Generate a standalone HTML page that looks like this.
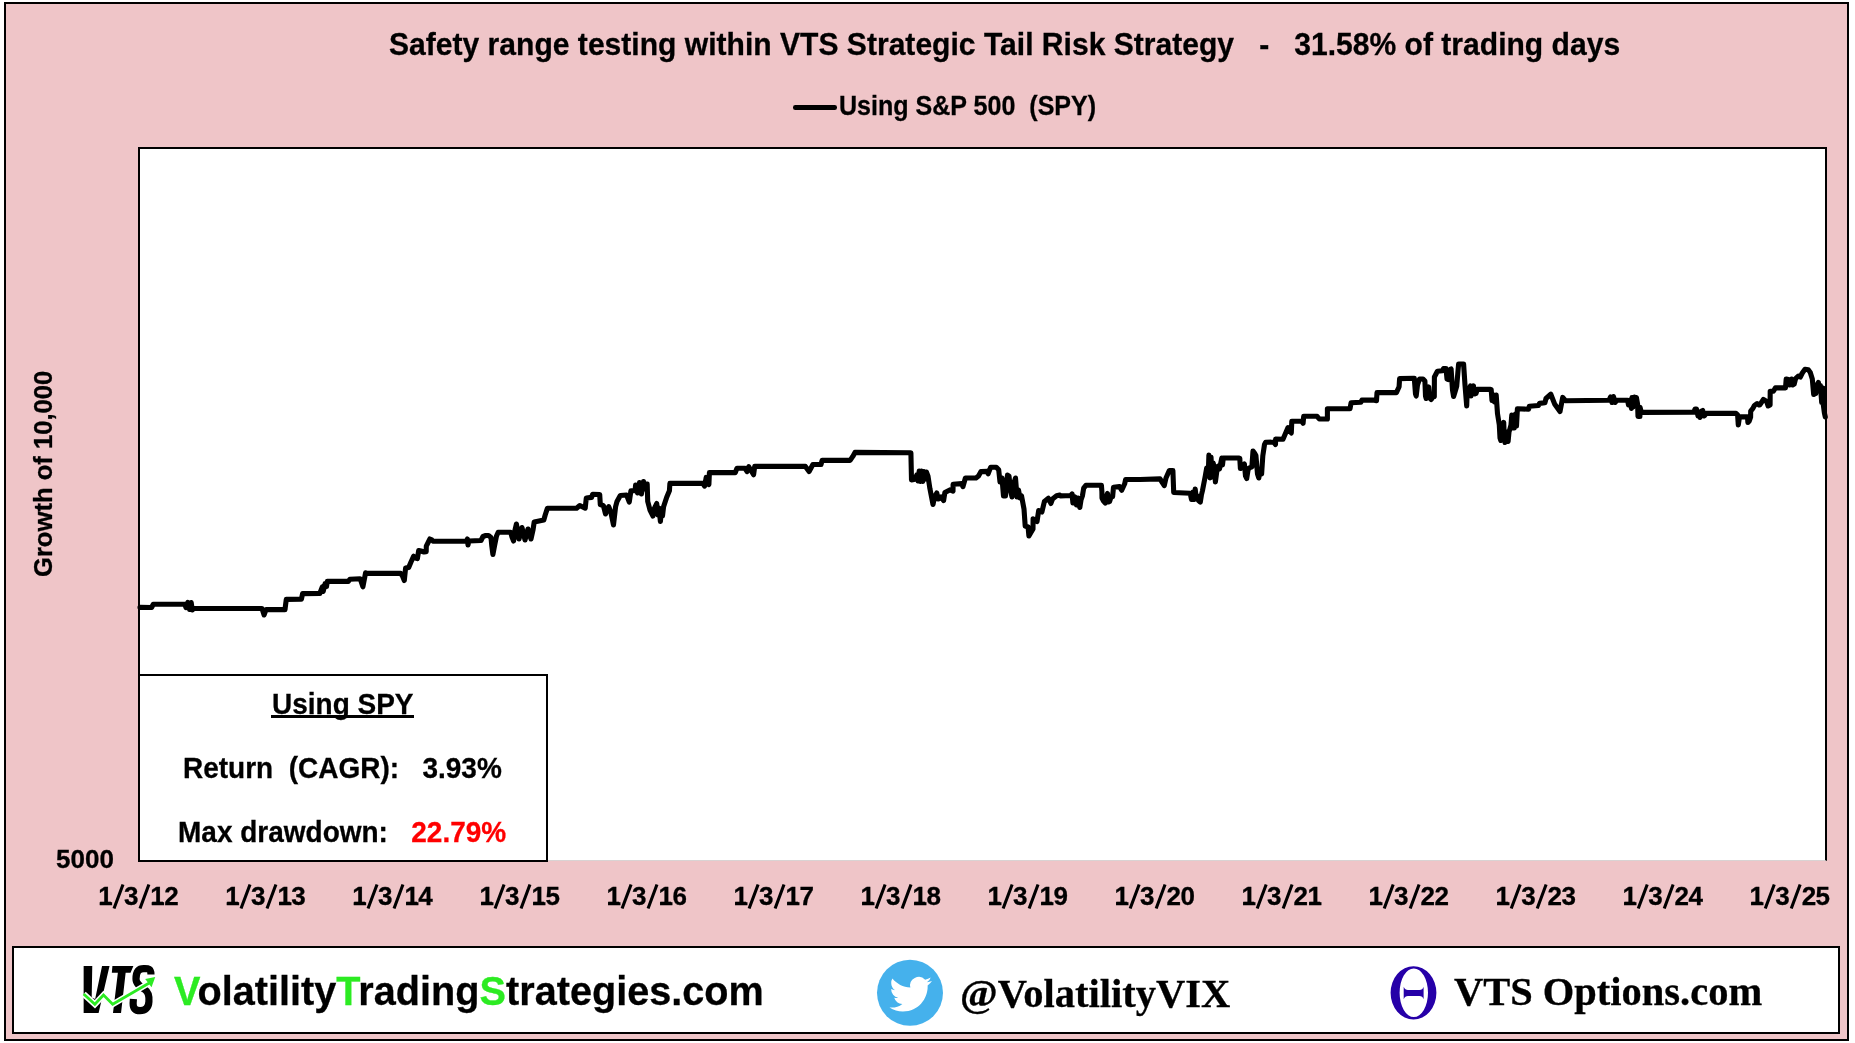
<!DOCTYPE html>
<html><head><meta charset="utf-8">
<style>
html,body{margin:0;padding:0;}
body{width:1855px;height:1043px;position:relative;background:#fff;overflow:hidden;-webkit-font-smoothing:antialiased;-webkit-text-stroke-width:0.3px;font-family:"Liberation Sans",sans-serif;color:#000;}
.abs{position:absolute;}
#outer{left:4px;top:2px;width:1841px;height:1035px;border:2px solid #000;background:#efc5c8;}
#title{left:389px;top:28.1px;font-weight:bold;font-size:31.2px;white-space:pre;line-height:34px;transform-origin:0 0;transform:scaleX(0.9643);}
#legend{left:838.5px;top:89.8px;font-weight:bold;font-size:27.5px;white-space:pre;line-height:32px;transform-origin:0 0;transform:scaleX(0.911);}
#legline{left:793.3px;top:105.1px;width:43.6px;height:4.6px;border-radius:2.3px;background:#000;}
#plot{left:138px;top:147px;width:1685px;height:711px;border:2px solid #000;border-bottom:1px solid #d9d3d3;background:#fff;}
#stats{left:138px;top:674px;width:406px;height:184px;border:2px solid #000;background:#fff;}
.st{position:absolute;font-weight:bold;font-size:30px;white-space:pre;line-height:32px;transform-origin:0 0;transform:scaleX(0.933);}
#ylab{left:31px;top:577px;transform-origin:0 0;transform:rotate(-90deg);font-weight:bold;font-size:25.6px;white-space:pre;line-height:24px;}
#footer{left:12px;top:946px;width:1824px;height:84px;border:2px solid #000;background:#fff;}
.ft{position:absolute;font-weight:bold;white-space:pre;}
</style></head><body>
<div id="root" style="position:absolute;left:0;top:0;width:1855px;height:1043px;overflow:hidden;will-change:transform;">
<div id="outer" class="abs"></div>
<div id="title" class="abs">Safety range testing within VTS Strategic Tail Risk Strategy   -   31.58% of trading days</div>
<div id="legline" class="abs"></div><div id="legend" class="abs">Using S&amp;P 500  (SPY)</div>
<div id="ylab" class="abs">Growth of 10,000</div>
<div id="plot" class="abs"></div>
<svg class="abs" style="left:0;top:0" width="1855" height="1043" viewBox="0 0 1855 1043">
<polyline points="140,607.4 151.6,607.5 153.3,604.3 184.8,604.3 186,607.5 187.8,602.3 189.5,609.5 191.2,602.5 192.3,610 193.8,608.5 262,608.5 264.1,615 266,609.6 285,609.6 285.6,604.6 286.3,599.4 301.4,599.3 302.6,593.6 319.8,593.5 322.3,587 323.2,591.5 325.1,583.5 326.5,586.5 327.3,581.4 348.3,581.4 349.9,579.3 360.2,578.8 362.9,586.8 365.6,572.8 367,573.4 400.6,573.3 402.5,576 404.3,580.5 405.6,568 408.7,567.4 411,562 413.7,556.2 415.5,558 417.4,558.6 418.7,550.5 421,551 424,552 426.2,551.8 426.3,546.2 429.9,539 431.8,539.8 433,541.2 466.5,541.2 467.4,539 468,545 468.9,541 481,540.5 483,536.5 485.8,535.5 488.5,535.5 491,537.5 491.8,546 492.9,554.5 494.5,546 496.5,536 498.2,532.3 510.7,532.3 512,537 513.6,541 515,530 516.4,524 519,539 522,527.5 525,540 528,529 531,539 533,530 534.2,522 543.8,520 545.2,515 547.4,508.2 576.6,508.2 579.8,505.5 585.2,508.2 586.3,498 591.6,497.4 592.7,494.2 599.7,494.5 600.3,504.5 603.4,505.6 605.5,514 608.7,506.6 610.8,511.9 613.5,525 615.6,506.6 617,501.5 620.3,495.5 626.6,495 629.3,502 630.9,490.8 635.1,490.8 635.6,485 637.5,493 639.5,482.5 641.4,494 643.5,481.5 645.5,489 647.2,484 647.7,501.4 650,510 653,516 654.5,508 656.7,503.5 658,515 659,508 660.4,521.5 661.5,510 662.5,516 663.6,506.6 666.7,497.2 669.4,490.8 669.9,483.4 671.4,483.4 702.9,483.4 704.6,486.1 706.2,477.4 708.9,484.5 709.4,472.6 735.3,472.6 736.9,468.3 745,468.3 747.1,471.5 748.8,466.7 753.6,474.7 754.7,466.4 805.4,466.4 809.1,471.5 812.9,464.5 821,464.5 822.1,460.4 850.1,460.4 852.8,456.4 855,452.4 910.9,452.8 911.5,479.9 915,479.3 916.8,474.9 918,481 919.2,471 920.4,481.5 921.6,471 922.8,481.5 924,471.5 925.2,479 926.4,472 928,476.2 929.9,488.6 933,504.5 934.5,497 936.8,493 938,499 939.3,498.5 941,497 943.6,500.5 944.9,492.4 949.8,489.9 953,491.1 953.1,484.3 961.7,483.6 962.9,486.7 965.4,478 976,478 978.5,476 981,471.6 987.3,471.4 988.1,473.8 990.6,467.3 996.3,467.3 998.7,469.8 1000,482 1002,478 1003.5,496 1005.5,496 1007.5,475 1009,476 1010.5,490 1012,497 1013.5,484 1015.5,478 1017,497 1018.5,490 1020,498 1021.5,495.8 1024,508.9 1025.2,526 1028.1,527 1028.9,536 1033,529 1033.1,518.7 1037,521.5 1038.7,510.5 1041.9,512 1044.4,501.5 1048.4,498.3 1050.9,503.5 1052.5,499.1 1056.6,495.8 1059.8,495 1060.5,495.9 1070.8,495.5 1072.1,494 1072.9,503 1074,496.5 1075.1,497 1076.5,505 1078,498 1079.8,507.5 1081,500 1082.4,496 1083.7,488.1 1085.9,485.3 1101.4,485.3 1101.9,491.6 1102,498 1103.5,501 1105.3,503 1106.5,496 1107.5,493.5 1108.5,502 1109.6,501.5 1111,497 1112.6,496.8 1113.5,487.3 1119.5,486.6 1121.7,490.3 1124.7,483.8 1125.6,479.5 1140,479.5 1160,478.9 1162,482 1164.3,485.5 1166,478 1169.3,470.5 1172.9,470.5 1173.7,492.5 1190.2,493.2 1191.5,499.5 1193,492 1194.2,499.5 1195.2,489 1196.3,499 1197.4,496 1198.6,500.5 1200.3,502 1201.4,495 1202.4,491 1205.3,476 1206.7,468 1208.2,476 1208.9,455 1210,478 1211,457 1212,477 1213.2,463 1214.6,469 1215.4,482 1217,470 1218.2,466 1219.5,469 1221.8,458 1222.5,465 1223.3,458 1238.4,458 1239.8,458.5 1240.4,468.5 1242.5,466 1244.4,464 1245.5,476 1246.7,478.5 1248,470 1249,468 1251.9,466.8 1253,451 1254.5,453 1255.9,455.5 1257.5,474 1258.8,478 1260,470 1261.6,474 1262.8,455.9 1264.5,444.5 1265.7,442.3 1273.7,442.1 1275.5,444.5 1275.6,439 1283,439.2 1288,427.6 1291.3,433 1291.8,421.2 1302,421.2 1303.1,423.3 1303.7,416.3 1317.1,416.3 1319.3,419 1327.4,419 1327.4,408.8 1350,408.8 1351.1,402.8 1360.8,402.3 1361.9,400.1 1373.2,400.1 1376.5,400.7 1377,392.6 1396.4,392.6 1399.1,386.7 1399.6,378.6 1414.3,378.2 1415.5,394 1416.2,396 1417.5,385 1419.5,379 1421.2,379 1423,379 1424.9,381 1425.5,396 1426.2,398.5 1427.5,390 1428.7,387 1429.8,398 1431.2,399.5 1433,396 1434.3,396.5 1434.4,377 1437.4,371.3 1442.4,370.7 1443.6,368.5 1446,368.5 1447,379 1448,379.5 1449.5,370 1451.1,369 1452.5,390 1453.6,396.5 1455,392 1456.7,386.3 1458.6,364 1463.6,364 1465,385 1466.7,406 1467.3,388 1469,390 1470.4,386 1471,396 1472.3,388 1473.5,386 1474.8,394 1476,393.5 1477.3,389.4 1490.4,389.4 1491.2,389.7 1492,400.5 1493.5,395 1494.5,402 1496.2,395 1497.5,413.7 1499.3,424.9 1500,438 1500.8,440.5 1502,430 1503.7,422.4 1504.3,438 1505,442.5 1506.5,432 1508.1,441.5 1509,432 1510,428.6 1511,425 1511.8,415 1513,428 1514.3,428 1515.5,414 1516.5,426 1517.4,408.7 1528.6,409.3 1529.3,406.2 1538.4,405.5 1539.5,403.4 1544.9,402.8 1546,398.5 1550.8,394.2 1554.6,403.9 1560,411.5 1562.7,397.4 1565.4,400.7 1609,400.3 1610.5,397 1612,402.5 1613.5,396.5 1615,402.5 1616.9,400.3 1627.6,400.3 1628.5,405 1630,400 1631.5,408.5 1632,397.5 1633,407 1634.5,397 1635.5,405 1636.4,397.5 1637.6,404.2 1638,416.5 1639.9,416.5 1640,407.2 1641.4,412.4 1693.8,412.3 1695,409 1696.5,409 1698,416 1699,412 1700,417.5 1701.5,411 1702.7,410.5 1703.8,416 1704.6,415.5 1706.1,413.4 1736,413.4 1737.6,414.9 1738.3,425 1739.5,416.9 1747.5,416.9 1747.9,422.5 1749.2,421 1750.6,417.2 1750.7,411.1 1752.9,408.4 1754.4,405.5 1757.1,403.5 1759,405 1760,404.7 1763.4,399.5 1766.7,401.5 1768.1,406 1770.1,405 1770.2,391.2 1773.4,391.2 1775.4,387.9 1785.5,387.9 1786.2,379 1788.2,379.5 1789.5,385 1791.5,379 1792.5,385 1794.2,384 1795.6,378.5 1798.3,376 1800.3,377 1802.3,373 1805,369.3 1808.3,369.8 1810.3,372.5 1812.3,379 1813.7,394.5 1815.7,393.5 1817,385 1818.4,382.5 1819.1,391 1820.4,385.5 1821.7,402.5 1823.1,388 1823.2,404 1824.4,413 1825.3,417" fill="none" stroke="#000" stroke-width="5.1" stroke-linejoin="round" stroke-linecap="round"/>
</svg>
<div id="stats" class="abs"></div>
<div class="st" style="left:272px;top:687.5px;">Using SPY</div>
<div class="abs" style="left:271px;top:715px;width:143px;height:3px;background:#000"></div>
<div class="st" style="left:183px;top:751.5px;">Return  (CAGR):   3.93%</div>
<div class="st" style="left:178px;top:815.5px;">Max drawdown:   <span style="color:#f00">22.79%</span></div>
<div class="abs" style="left:56px;top:845px;font-weight:bold;font-size:26px;line-height:28px;">5000</div>
<svg class="abs" style="left:0;top:870px" width="1855" height="50" viewBox="0 870 1855 50"><g font-family="Liberation Sans" font-weight="bold" font-size="26" text-anchor="middle" fill="#000" stroke-width="0.3"><g stroke="#000"><text x="105.55" y="904.7">1</text><text x="131.15" y="904.7">3</text><text x="157.60" y="904.7">1</text><text x="171.55" y="904.7">2</text></g><path d="M123.00 884.5L114.00 908.5M148.90 884.5L140.00 908.5" stroke="#000" stroke-width="3.1"/><rect x="100.15" y="901.7" width="10.8" height="3" /><rect x="152.20" y="901.7" width="10.8" height="3" /><g stroke="#000"><text x="232.57" y="904.7">1</text><text x="258.17" y="904.7">3</text><text x="284.62" y="904.7">1</text><text x="298.57" y="904.7">3</text></g><path d="M250.02 884.5L241.02 908.5M275.92 884.5L267.02 908.5" stroke="#000" stroke-width="3.1"/><rect x="227.17" y="901.7" width="10.8" height="3" /><rect x="279.22" y="901.7" width="10.8" height="3" /><g stroke="#000"><text x="359.59" y="904.7">1</text><text x="385.19" y="904.7">3</text><text x="411.64" y="904.7">1</text><text x="425.59" y="904.7">4</text></g><path d="M377.04 884.5L368.04 908.5M402.94 884.5L394.04 908.5" stroke="#000" stroke-width="3.1"/><rect x="354.19" y="901.7" width="10.8" height="3" /><rect x="406.24" y="901.7" width="10.8" height="3" /><g stroke="#000"><text x="486.61" y="904.7">1</text><text x="512.21" y="904.7">3</text><text x="538.66" y="904.7">1</text><text x="552.61" y="904.7">5</text></g><path d="M504.06 884.5L495.06 908.5M529.96 884.5L521.06 908.5" stroke="#000" stroke-width="3.1"/><rect x="481.21" y="901.7" width="10.8" height="3" /><rect x="533.26" y="901.7" width="10.8" height="3" /><g stroke="#000"><text x="613.63" y="904.7">1</text><text x="639.23" y="904.7">3</text><text x="665.68" y="904.7">1</text><text x="679.63" y="904.7">6</text></g><path d="M631.08 884.5L622.08 908.5M656.98 884.5L648.08 908.5" stroke="#000" stroke-width="3.1"/><rect x="608.23" y="901.7" width="10.8" height="3" /><rect x="660.28" y="901.7" width="10.8" height="3" /><g stroke="#000"><text x="740.65" y="904.7">1</text><text x="766.25" y="904.7">3</text><text x="792.70" y="904.7">1</text><text x="806.65" y="904.7">7</text></g><path d="M758.10 884.5L749.10 908.5M784.00 884.5L775.10 908.5" stroke="#000" stroke-width="3.1"/><rect x="735.25" y="901.7" width="10.8" height="3" /><rect x="787.30" y="901.7" width="10.8" height="3" /><g stroke="#000"><text x="867.67" y="904.7">1</text><text x="893.27" y="904.7">3</text><text x="919.72" y="904.7">1</text><text x="933.67" y="904.7">8</text></g><path d="M885.12 884.5L876.12 908.5M911.02 884.5L902.12 908.5" stroke="#000" stroke-width="3.1"/><rect x="862.27" y="901.7" width="10.8" height="3" /><rect x="914.32" y="901.7" width="10.8" height="3" /><g stroke="#000"><text x="994.69" y="904.7">1</text><text x="1020.29" y="904.7">3</text><text x="1046.74" y="904.7">1</text><text x="1060.69" y="904.7">9</text></g><path d="M1012.14 884.5L1003.14 908.5M1038.04 884.5L1029.14 908.5" stroke="#000" stroke-width="3.1"/><rect x="989.29" y="901.7" width="10.8" height="3" /><rect x="1041.34" y="901.7" width="10.8" height="3" /><g stroke="#000"><text x="1121.71" y="904.7">1</text><text x="1147.31" y="904.7">3</text><text x="1173.76" y="904.7">2</text><text x="1187.71" y="904.7">0</text></g><path d="M1139.16 884.5L1130.16 908.5M1165.06 884.5L1156.16 908.5" stroke="#000" stroke-width="3.1"/><rect x="1116.31" y="901.7" width="10.8" height="3" /><g stroke="#000"><text x="1248.73" y="904.7">1</text><text x="1274.33" y="904.7">3</text><text x="1300.78" y="904.7">2</text><text x="1314.73" y="904.7">1</text></g><path d="M1266.18 884.5L1257.18 908.5M1292.08 884.5L1283.18 908.5" stroke="#000" stroke-width="3.1"/><rect x="1243.33" y="901.7" width="10.8" height="3" /><rect x="1309.33" y="901.7" width="10.8" height="3" /><g stroke="#000"><text x="1375.75" y="904.7">1</text><text x="1401.35" y="904.7">3</text><text x="1427.80" y="904.7">2</text><text x="1441.75" y="904.7">2</text></g><path d="M1393.20 884.5L1384.20 908.5M1419.10 884.5L1410.20 908.5" stroke="#000" stroke-width="3.1"/><rect x="1370.35" y="901.7" width="10.8" height="3" /><g stroke="#000"><text x="1502.77" y="904.7">1</text><text x="1528.37" y="904.7">3</text><text x="1554.82" y="904.7">2</text><text x="1568.77" y="904.7">3</text></g><path d="M1520.22 884.5L1511.22 908.5M1546.12 884.5L1537.22 908.5" stroke="#000" stroke-width="3.1"/><rect x="1497.37" y="901.7" width="10.8" height="3" /><g stroke="#000"><text x="1629.79" y="904.7">1</text><text x="1655.39" y="904.7">3</text><text x="1681.84" y="904.7">2</text><text x="1695.79" y="904.7">4</text></g><path d="M1647.24 884.5L1638.24 908.5M1673.14 884.5L1664.24 908.5" stroke="#000" stroke-width="3.1"/><rect x="1624.39" y="901.7" width="10.8" height="3" /><g stroke="#000"><text x="1756.81" y="904.7">1</text><text x="1782.41" y="904.7">3</text><text x="1808.86" y="904.7">2</text><text x="1822.81" y="904.7">5</text></g><path d="M1774.26 884.5L1765.26 908.5M1800.16 884.5L1791.26 908.5" stroke="#000" stroke-width="3.1"/><rect x="1751.41" y="901.7" width="10.8" height="3" /></g></svg>
<div id="footer" class="abs"></div>
<svg class="abs" style="left:75px;top:960px" width="90" height="60" viewBox="0 0 1564 1043">
<polygon points="150,105 300,105 290,650 350,680 470,105 600,105 410,920 150,920" fill="#000"/>
<polygon points="650,105 1015,105 965,220 880,220 800,920 660,920 745,220 640,220" fill="#000"/>
<path d="M1320 250 C1320 140 1260 150 1195 150 C1110 150 1060 200 1060 330 C1060 420 1150 470 1220 520 C1290 570 1290 640 1285 720 C1280 830 1220 880 1130 880 C1040 880 1010 830 1010 750 L1015 680" fill="none" stroke="#000" stroke-width="125"/>
<polyline points="150,590 345,770 495,610 655,770 1290,400" fill="none" stroke="#fff" stroke-width="105" stroke-linejoin="miter"/>
<polygon points="1190,320 1410,285 1335,500" fill="#fff"/>
<polyline points="150,590 345,770 495,610 655,770 1290,400" fill="none" stroke="#2ceb22" stroke-width="48" stroke-linejoin="miter"/>
<polygon points="1220,330 1395,295 1330,475" fill="#2ceb22"/>
</svg>
<div class="ft" style="left:174px;top:967px;font-size:41.5px;line-height:48px;transform-origin:0 0;transform:scaleX(0.9555);font-family:'Liberation Sans',sans-serif;"><span style="color:#2ceb22">V</span>olatility<span style="color:#2ceb22">T</span>rading<span style="color:#2ceb22">S</span>trategies.com</div>
<svg class="abs" style="left:870px;top:952px" width="82" height="82" viewBox="870 952 82 82">
<circle cx="910" cy="992.8" r="33" fill="#45b1ec"/>
<g transform="translate(889.5,972.9) scale(1.77)"><path fill="#fff" d="M23.953 4.57a10 10 0 01-2.825.775 4.958 4.958 0 002.163-2.723c-.951.555-2.005.959-3.127 1.184a4.92 4.92 0 00-8.384 4.482C7.69 8.095 4.067 6.13 1.64 3.162a4.822 4.822 0 00-.666 2.475c0 1.71.87 3.213 2.188 4.096a4.904 4.904 0 01-2.228-.616v.06a4.923 4.923 0 003.946 4.827 4.996 4.996 0 01-2.212.085 4.936 4.936 0 004.604 3.417 9.867 9.867 0 01-6.102 2.105c-.39 0-.779-.023-1.17-.067a13.995 13.995 0 007.557 2.209c9.053 0 13.998-7.496 13.998-13.985 0-.21 0-.42-.015-.63A9.935 9.935 0 0024 4.59z"/></g>
</svg>
<div class="ft" style="left:960px;top:969.5px;font-size:40.5px;line-height:48px;font-family:'Liberation Serif',serif;">@VolatilityVIX</div>
<svg class="abs" style="left:1385px;top:960px" width="60" height="65" viewBox="1385 960 60 65">
<path fill-rule="evenodd" fill="#2600a8" d="M1436.4 992.85 A22.9 26.65 0 1 1 1390.6 992.85 A22.9 26.65 0 1 1 1436.4 992.85 Z M1428 992.7 A14.2 24.3 0 1 0 1399.6 992.7 A14.2 24.3 0 1 0 1428 992.7 Z"/>
<path fill="#2600a8" d="M1403.7 986.8 Q1405 990 1408 990 L1419.5 990 Q1422.5 990 1423.6 986.8 L1423.6 999.3 Q1422.5 996.1 1419.5 996.1 L1408 996.1 Q1405 996.1 1403.7 999.3 Z"/>
</svg>
<div class="ft" style="left:1453.5px;top:967.5px;font-size:39px;line-height:48px;transform-origin:0 0;transform:scaleX(1.038);font-family:'Liberation Serif',serif;">VTS Options.com</div>
</div>
</body></html>
